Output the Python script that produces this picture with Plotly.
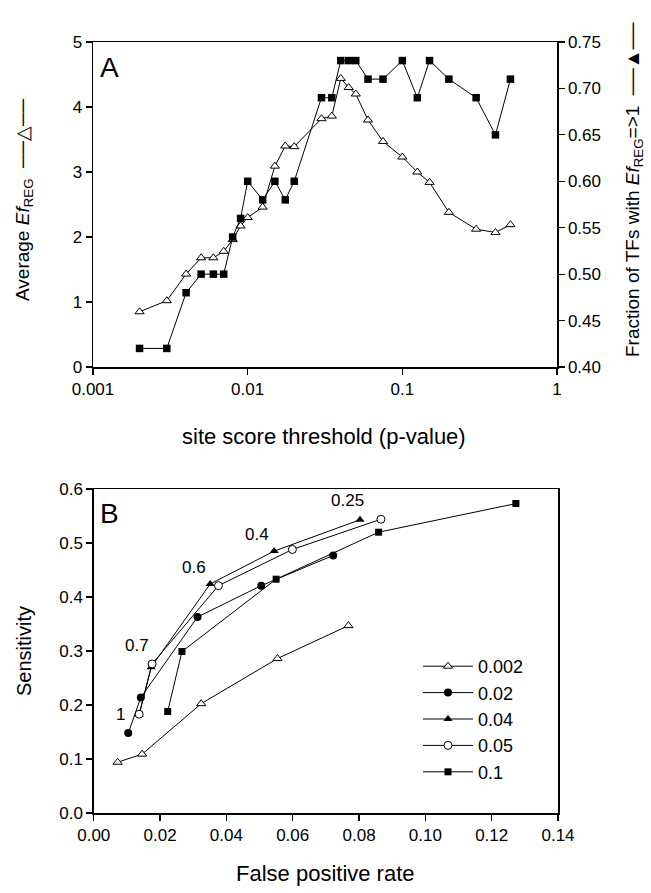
import plotly.graph_objects as go

# ---------------- Panel A data ----------------
p_thresh = [0.002, 0.003, 0.004, 0.005, 0.006, 0.007, 0.008, 0.009, 0.01, 0.0125,
            0.015, 0.0175, 0.02, 0.03, 0.035, 0.04, 0.045, 0.05, 0.06, 0.075,
            0.1, 0.125, 0.15, 0.2, 0.3, 0.4, 0.5]
avg_ef = [0.85, 1.02, 1.43, 1.68, 1.68, 1.78, 1.96, 2.17, 2.30, 2.46,
          3.09, 3.40, 3.39, 3.82, 3.86, 4.44, 4.30, 4.20, 3.80, 3.47,
          3.23, 3.00, 2.84, 2.38, 2.12, 2.07, 2.19]
frac_tf = [0.42, 0.42, 0.48, 0.50, 0.50, 0.50, 0.54, 0.56, 0.60, 0.58,
           0.60, 0.58, 0.60, 0.69, 0.69, 0.73, 0.73, 0.73, 0.71, 0.71,
           0.73, 0.69, 0.73, 0.71, 0.69, 0.65, 0.71]
a_xticks = [0.001, 0.01, 0.1, 1]
a_xticktext = ["0.001", "0.01", "0.1", "1"]

# ---------------- Panel B data ----------------
fpr_0002 = [0.0072, 0.0146, 0.0324, 0.0554, 0.0768]
sen_0002 = [0.094, 0.109, 0.2025, 0.286, 0.347]
fpr_002 = [0.0104, 0.0142, 0.0313, 0.0505, 0.0722]
sen_002 = [0.148, 0.214, 0.363, 0.421, 0.477]
fpr_004 = [0.0137, 0.0173, 0.0351, 0.0544, 0.0803]
sen_004 = [0.182, 0.270, 0.424, 0.485, 0.543]
fpr_005 = [0.0137, 0.0176, 0.0376, 0.0599, 0.0866]
sen_005 = [0.183, 0.276, 0.421, 0.488, 0.544]
fpr_01 = [0.0223, 0.0266, 0.0550, 0.0859, 0.1273]
sen_01 = [0.188, 0.299, 0.433, 0.520, 0.573]
roc_labels = ["1", "0.7", "0.6", "0.4", "0.25"]
roc_label_x = [0.0082, 0.0129, 0.0303, 0.0491, 0.0764]
roc_label_y = [0.182, 0.310, 0.455, 0.515, 0.579]

FONT = "Liberation Sans, Arial, Helvetica, sans-serif"
W, H = 651, 893

def px_x(v):
    return v / W

def px_y(v):
    return 1 - v / H

fig = go.Figure()

# Panel A traces
fig.add_trace(go.Scatter(
    x=p_thresh, y=avg_ef, mode="lines+markers", xaxis="x", yaxis="y",
    line=dict(color="black", width=1),
    marker=dict(symbol="triangle-up", size=8, color="white",
                line=dict(color="black", width=1)),
    showlegend=False))
fig.add_trace(go.Scatter(
    x=p_thresh, y=frac_tf, mode="lines+markers", xaxis="x", yaxis="y2",
    line=dict(color="black", width=1),
    marker=dict(symbol="square", size=7.5, color="black"),
    showlegend=False))

# Panel B traces
series_b = [
    ("0.002", fpr_0002, sen_0002, dict(symbol="triangle-up", size=8, color="white",
                                       line=dict(color="black", width=1))),
    ("0.02", fpr_002, sen_002, dict(symbol="circle", size=8, color="black")),
    ("0.04", fpr_004, sen_004, dict(symbol="triangle-up", size=8, color="black")),
    ("0.05", fpr_005, sen_005, dict(symbol="circle", size=8, color="white",
                                    line=dict(color="black", width=1))),
    ("0.1", fpr_01, sen_01, dict(symbol="square", size=7, color="black")),
]
for name, xs, ys, mk in series_b:
    fig.add_trace(go.Scatter(
        x=xs, y=ys, mode="lines+markers", name=name, xaxis="x2", yaxis="y3",
        line=dict(color="black", width=1), marker=mk))

axis_common = dict(showline=True, linecolor="black", linewidth=1.5, ticks="outside",
                   ticklen=6, tickwidth=1.2, tickcolor="black", showgrid=False,
                   zeroline=False, automargin=False,
                   tickfont=dict(size=17, color="black", family=FONT))

fig.update_layout(
    template="none",
    width=W, height=H,
    margin=dict(l=0, r=0, t=0, b=0, autoexpand=False),
    paper_bgcolor="white", plot_bgcolor="white",
    font=dict(family=FONT, color="black"),
    xaxis=dict(type="log", range=[-3, 0], domain=[px_x(93), px_x(557)],
               tickmode="array", tickvals=a_xticks, ticktext=a_xticktext,
               anchor="y", mirror=True, **axis_common),
    yaxis=dict(range=[0, 5], dtick=1, tick0=0, domain=[px_y(367), px_y(42)],
               anchor="x", **axis_common),
    yaxis2=dict(range=[0.40, 0.75], dtick=0.05, tick0=0.40, tickformat=".2f",
                overlaying="y", side="right", anchor="x", **axis_common),
    xaxis2=dict(range=[0, 0.14], dtick=0.02, tick0=0, tickformat=".2f",
                domain=[px_x(93.75), px_x(558)], anchor="y3", mirror=True,
                **axis_common),
    yaxis3=dict(range=[0, 0.6], dtick=0.1, tick0=0, tickformat=".1f",
                domain=[px_y(813), px_y(489)], anchor="x2", mirror=True,
                **axis_common),
    legend=dict(x=px_x(418), y=px_y(648), xanchor="left", yanchor="top",
                bgcolor="rgba(0,0,0,0)", font=dict(size=18, family=FONT),
                tracegroupgap=0, itemwidth=50),
)

annotations = [
    dict(text="A", x=px_x(98), y=px_y(68), xref="paper", yref="paper",
         xanchor="left", yanchor="middle", showarrow=False,
         font=dict(size=28, family=FONT)),
    dict(text="B", x=px_x(98), y=px_y(513), xref="paper", yref="paper",
         xanchor="left", yanchor="middle", showarrow=False,
         font=dict(size=28, family=FONT)),
    dict(text="Average <i>Ef</i><sub>REG</sub>  \u2500\u2500\u25b3\u2500\u2500",
         x=px_x(24), y=px_y(200), xref="paper", yref="paper",
         xanchor="center", yanchor="middle",
         textangle=-90, showarrow=False, font=dict(size=19, family=FONT)),
    dict(text="Fraction of TFs with <i>Ef</i><sub>REG</sub>=>1  \u2500\u2500\u25b2\u2500\u2500",
         x=px_x(634), y=px_y(190), xref="paper", yref="paper",
         xanchor="center", yanchor="middle",
         textangle=-90, showarrow=False, font=dict(size=19, family=FONT)),
    dict(text="site score threshold (p-value)", x=px_x(324), y=px_y(437),
         xref="paper", yref="paper", xanchor="center", yanchor="middle",
         showarrow=False, font=dict(size=22, family=FONT)),
    dict(text="Sensitivity", x=px_x(24), y=px_y(651), xref="paper", yref="paper",
         xanchor="center", yanchor="middle",
         textangle=-90, showarrow=False, font=dict(size=20, family=FONT)),
    dict(text="False positive rate", x=px_x(325), y=px_y(873),
         xref="paper", yref="paper", xanchor="center", yanchor="middle",
         showarrow=False, font=dict(size=22, family=FONT)),
]
for t, lx, ly in zip(roc_labels, roc_label_x, roc_label_y):
    annotations.append(dict(text=t, x=lx, y=ly, xref="x2", yref="y3",
                            showarrow=False, font=dict(size=17, family=FONT)))
fig.update_layout(annotations=annotations)

fig.write_html("out.html",
               config={"displayModeBar": False, "staticPlot": True},
               post_script="document.body.style.margin='0';"
                           "document.body.style.overflow='hidden';")
